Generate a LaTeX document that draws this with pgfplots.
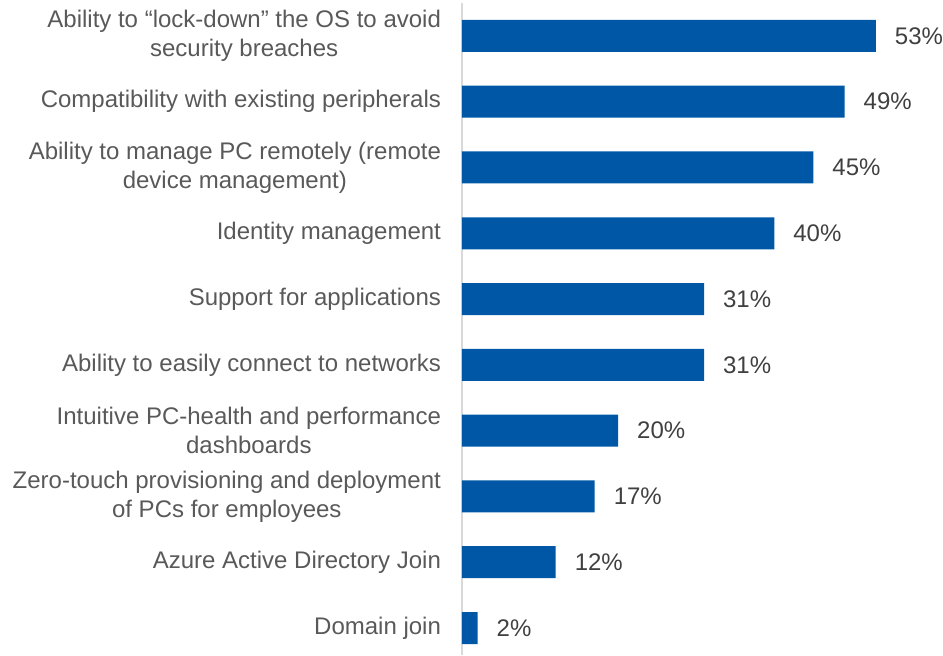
\documentclass[border=0pt]{standalone}
\usepackage{pgfplots}
\pgfplotsset{compat=1.18}
\usepackage{fontspec}
\setmainfont{Liberation Sans}
\definecolor{barblue}{RGB}{0,87,166}
\definecolor{labgray}{RGB}{89,89,89}
\definecolor{valgray}{RGB}{64,64,64}
\definecolor{axgray}{RGB}{217,217,217}
\begin{document}
\begin{tikzpicture}
\useasboundingbox (-231pt,0pt) rectangle (240.5pt,327.5pt);
\begin{axis}[
  at={(0,0)}, anchor=south west,
  scale only axis, width=240.5pt, height=326pt,
  xbar, bar width=16pt,
  xmin=0, xmax=61.6, ymin=-0.5, ymax=9.41, y dir=reverse,
  axis x line=none, axis y line=left,
  axis line style={-, draw=axgray, line width=1pt},
  ytick={0,...,9}, major tick length=0pt, ytick style={draw=none},
  yticklabels={{Ability to “lock-down” the OS to avoid\\security breaches},
    {Compatibility with existing peripherals},
    {Ability to manage PC remotely (remote\\device management)},
    {Identity management},
    {Support for applications},
    {Ability to easily connect to networks},
    {Intuitive PC-health and performance\\dashboards},
    {Zero-touch provisioning and deployment\\of PCs for employees},
    {Azure Active Directory Join},
    {Domain join}},
  yticklabel style={align=center, font=\fontsize{12}{14.5}\selectfont, text=labgray, xshift=-7pt},
  /pgf/number format/assume math mode=true,
  point meta=x,
  nodes near coords={\pgfmathprintnumber{\pgfplotspointmeta}\%},
  nodes near coords style={font=\fontsize{12}{14}\selectfont, text=valgray, anchor=west, xshift=6pt},
  clip=false,
]
\addplot[fill=barblue, draw=none] coordinates {
  (53,0) (49,1) (45,2) (40,3) (31,4) (31,5) (20,6) (17,7) (12,8) (2,9)
};
\end{axis}
\end{tikzpicture}
\end{document}
